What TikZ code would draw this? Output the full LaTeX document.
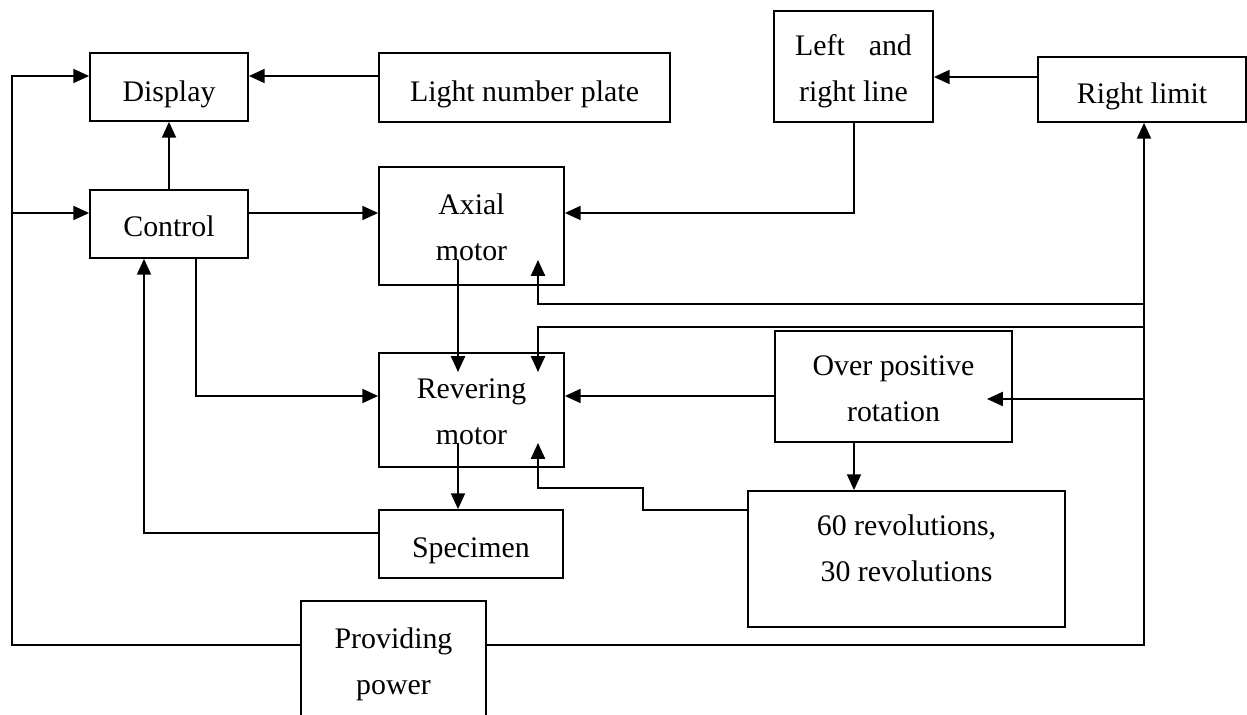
\documentclass[tikz,border=0pt]{standalone}
\usepackage{fontspec}
\setmainfont{Liberation Serif}
\usetikzlibrary{arrows.meta,fit}
\begin{document}
\begin{tikzpicture}[x=0.02cm,y=-0.02cm,
  box/.style={draw, line width=1pt, inner sep=0pt},
  txt/.style={inner sep=0pt, align=center, font=\fontsize{17}{26}\selectfont},
  arr/.style={line width=1pt, -{Triangle[length=9pt,width=8pt]}}]
\useasboundingbox (0,0) rectangle (1247,715);
% boxes
\node[box, fit={(90,53) (248,121)}] (display) {};
\node[box, fit={(379,53) (670,122)}] (plate) {};
\node[box, fit={(774,11) (933,122)}] (lrline) {};
\node[box, fit={(1038,57) (1246,122)}] (rightlimit) {};
\node[box, fit={(90,190) (248,258)}] (control) {};
\node[box, fit={(379,167) (564,285)}] (axial) {};
\node[box, fit={(379,353) (564,467)}] (revering) {};
\node[box, fit={(775,331) (1012,442)}] (over) {};
\node[box, fit={(748,491) (1065,627)}] (rev60) {};
\node[box, fit={(379,510) (563,578)}] (specimen) {};
\node[box, fit={(301,601) (486,722)}] (power) {};
% texts
\node[txt, yshift=-0.14cm] (displayt) at (display.center) {Display};
\node[txt, yshift=-0.14cm] (platet) at (plate.center) {Light number plate};
\node[txt, yshift=-0.10cm] (lrlinet) at (lrline.center) {Left\hspace{0.8em}and\\right line};
\node[txt, yshift=-0.14cm] (rightlimitt) at (rightlimit.center) {Right limit};
\node[txt, yshift=-0.05cm] (controlt) at (control.center) {Control};
\node[txt, yshift=-0.02cm] (axialt) at (axial.center) {Axial\\motor};
\node[txt, yshift=-0.04cm] (reveringt) at (revering.center) {Revering\\motor};
\node[txt, yshift=-0.04cm] (overt) at (over.center) {Over positive\\rotation};
\node[txt, yshift=0.22cm] (rev60t) at (rev60.center) {60 revolutions,\\30 revolutions};
\node[txt, yshift=-0.13cm] (specimentxt) at (specimen.center) {Specimen};
\node[txt, yshift=-0.06cm] (powert) at (power.center) {Providing\\power};
% coordinates
\coordinate (lbot) at (12,645);
\coordinate (ltop) at (12,76);
\coordinate (lmid) at (12,213);
\coordinate (c2r) at (196,396);
\coordinate (s2c) at (144,533);
\coordinate (rl) at (1100,77);
\coordinate (lr2a) at (854,213);
\coordinate (a2rs) at (458,260);
\coordinate (a2re) at (458,372);
\coordinate (r2ss) at (458,443);
\coordinate (rbot) at (1144,645);
\coordinate (b1) at (1144,304);
\coordinate (b1l) at (538,304);
\coordinate (b1e) at (538,260);
\coordinate (b2) at (1144,327);
\coordinate (b2l) at (538,327);
\coordinate (b2e) at (538,372);
\coordinate (b3) at (1144,399);
\coordinate (b3e) at (987,399);
\coordinate (o2r) at (700,396);
\coordinate (o26) at (854,470);
\coordinate (s1) at (643,510);
\coordinate (s2) at (643,488);
\coordinate (s3) at (538,488);
\coordinate (s4) at (538,443);
% connectors
\draw[arr] (power.west |- lbot) -- (lbot) -- (ltop) -- (display.west |- ltop);
\draw[arr] (lmid) -- (control.west |- lmid);
\draw[arr] (plate.west |- ltop) -- (display.east |- ltop);
\draw[arr] (control.north) -- (display.south);
\draw[arr] (control.east |- lmid) -- (axial.west |- lmid);
\draw[arr] (control.south -| c2r) -- (c2r) -- (revering.west |- c2r);
\draw[arr] (specimen.west |- s2c) -- (s2c) -- (control.south -| s2c);
\draw[arr] (rightlimit.west |- rl) -- (lrline.east |- rl);
\draw[arr] (lrline.south -| lr2a) -- (lr2a) -- (axial.east |- lr2a);
\draw[arr] (a2rs) -- (a2re);
\draw[arr] (r2ss) -- (specimen.north -| r2ss);
\draw[arr] (power.east |- rbot) -- (rbot) -- (rightlimit.south -| rbot);
\draw[arr] (b1) -- (b1l) -- (b1e);
\draw[arr] (b2) -- (b2l) -- (b2e);
\draw[arr] (b3) -- (b3e);
\draw[arr] (over.west |- o2r) -- (revering.east |- o2r);
\draw[arr] (over.south -| o26) -- (rev60.north -| o26);
\draw[arr] (rev60.west |- s1) -- (s1) -- (s2) -- (s3) -- (s4);
\end{tikzpicture}
\end{document}
